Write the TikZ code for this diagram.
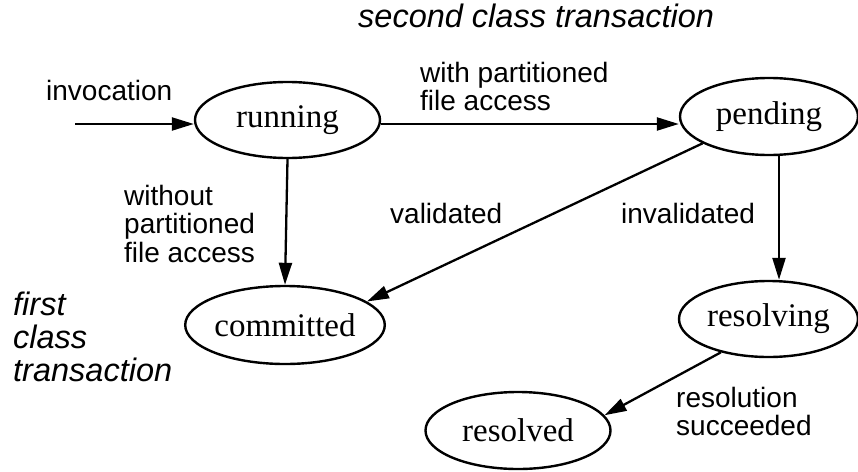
\documentclass[tikz,border=0pt]{standalone}
\usepackage{fontspec}
\setmainfont{Liberation Sans}
\newfontfamily\statefont{Liberation Serif}
\usetikzlibrary{shapes.geometric,arrows.meta}
\begin{document}
\begin{tikzpicture}[x=1pt,y=-1pt,
  state/.style={draw, ellipse, line width=2.4pt, inner sep=0pt,
    minimum width=185pt, minimum height=76pt,
    font=\statefont\fontsize{33}{36}\selectfont},
  lbl/.style={anchor=base west, inner sep=0pt, font=\fontsize{28}{27.5}\selectfont},
  cls/.style={anchor=base west, inner sep=0pt, font=\itshape\fontsize{32.5}{32.5}\selectfont},
  conn/.style={line width=2.3pt, -{Triangle[length=22pt,width=13pt]}}
]
\useasboundingbox (0,0) rectangle (858,471);
% states
\node[state] (running) at (287.5,120) {running};
\node[state, minimum width=178pt, minimum height=77pt] (pending) at (769,116.5) {pending};
\node[state, minimum height=78pt] (committed) at (285,325) {committed};
\node[state, minimum width=179pt] (resolving) at (768.5,319) {resolving};
\node[state, minimum height=77pt] (resolved) at (518,430.5) {resolved};
% free end
\coordinate (start) at (75,124);
% connectors
\draw[conn] (start) -- (start -| running.west);
\draw[conn] ([yshift=-4pt]running.east) -- ([yshift=-4pt]running.east -| pending.west);
\draw[conn] (running.south) -- (committed.north);
\draw[conn] (pending.202) -- (committed.16);
\draw[conn] ([xshift=10pt]pending.south) -- ([xshift=10pt]pending.south |- resolving.north);
\draw[conn] (resolving.215) -- (resolved.10);
% labels
\node[lbl] (linv) at (46,100) {invocation};
\node[lbl] (lwith) at (420,82) {\begin{tabular}[t]{@{}l@{}}with partitioned\\file access\end{tabular}};
\node[lbl] (lwithout) at (124,205) {\begin{tabular}[t]{@{}l@{}}without\\partitioned\\file access\end{tabular}};
\node[lbl] (lval) at (390,223) {validated};
\node[lbl] (linval) at (621,223) {invalidated};
\node[lbl] (lres) at (676,407) {\begin{tabular}[t]{@{}l@{}}resolution\\succeeded\end{tabular}};
% class captions
\node[cls] (second) at (358,27) {second class transaction};
\node[cls] (first) at (13,315) {\begin{tabular}[t]{@{}l@{}}first\\class\\transaction\end{tabular}};
\end{tikzpicture}
\end{document}
